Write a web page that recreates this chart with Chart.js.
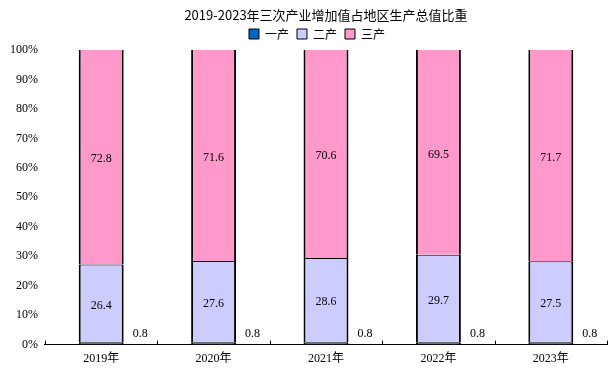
<!DOCTYPE html>
<html>
<head>
<meta charset="utf-8">
<script src="https://cdn.jsdelivr.net/npm/chart.js@4/dist/chart.umd.min.js"></script>
<style>
html,body{margin:0;padding:0;background:#fff;}
#wrap{width:615px;height:376px;position:relative;}
</style>
</head>
<body>
<div id="wrap"><canvas id="c" width="615" height="376"></canvas></div>
<script>
const titleText = '2019-2023年三次产业增加值占地区生产总值比重';
const categories = ['2019年', '2020年', '2021年', '2022年', '2023年'];
const seriesNames = ['一产', '二产', '三产'];
const primary = [0.8, 0.8, 0.8, 0.8, 0.8];
const secondary = [26.4, 27.6, 28.6, 29.7, 27.5];
const tertiary = [72.8, 71.6, 70.6, 69.5, 71.7];
const yTicks = [0, 10, 20, 30, 40, 50, 60, 70, 80, 90, 100];

const colors = ['#0066CC', '#CCCCFF', '#FF99CC'];
const serif = '"Liberation Serif", "Noto Sans CJK SC", serif';
const cjk = '"Noto Sans CJK SC", "Liberation Serif", sans-serif';

const customPlugin = {
  id: 'custom',
  afterLayout(chart) {
    const lg = chart.legend;
    const ca = chart.chartArea;
    const target = (ca.left + ca.right) / 2 - 9;
    const cur = (lg.left + lg.right) / 2;
    const d = target - cur;
    lg.left += d; lg.right += d;
  },
  afterDraw(chart) {
    const ctx = chart.ctx;
    const ca = chart.chartArea;
    const xs = chart.scales.x;
    ctx.save();
    ctx.fillStyle = '#000';
    ctx.font = '13px ' + cjk;
    ctx.textAlign = 'center';
    ctx.textBaseline = 'middle';
    ctx.fillText(titleText, (ca.left + ca.right) / 2, 15);
    ctx.restore();
    ctx.save();
    ctx.strokeStyle = '#000';
    ctx.lineWidth = 1;
    const n = categories.length;
    const step = (xs.right - xs.left) / n;
    for (let i = 0; i <= n; i++) {
      const x = Math.round(xs.left + i * step) + 0.5;
      ctx.beginPath();
      ctx.moveTo(x, ca.bottom);
      ctx.lineTo(x, ca.bottom - 4);
      ctx.stroke();
    }
    ctx.restore();
  },
  afterDatasetsDraw(chart) {
    const ctx = chart.ctx;
    ctx.save();
    ctx.fillStyle = '#000';
    ctx.font = '12px ' + serif;
    chart.data.datasets.forEach((ds, di) => {
      const meta = chart.getDatasetMeta(di);
      meta.data.forEach((el, i) => {
        const v = ds.data[i];
        const txt = v.toFixed(1);
        if (di === 0) {
          ctx.textAlign = 'left';
          ctx.textBaseline = 'middle';
          ctx.fillText(txt, el.x + el.width / 2 + 9, el.base - 11);
        } else {
          ctx.textAlign = 'center';
          ctx.textBaseline = 'middle';
          ctx.fillText(txt, el.x, (el.y + el.base) / 2 + 2);
        }
      });
    });
    ctx.restore();
  }
};

const sideBorder = (top) => ({ left: 2, right: 2, top: top, bottom: 0 });

new Chart(document.getElementById('c'), {
  type: 'bar',
  data: {
    labels: categories,
    datasets: [
      { label: seriesNames[0], data: primary, backgroundColor: colors[0], borderColor: '#000', borderWidth: sideBorder(1), borderSkipped: false, inflateAmount: 0 },
      { label: seriesNames[1], data: secondary, backgroundColor: colors[1], borderColor: '#000', borderWidth: sideBorder(1), borderSkipped: false, inflateAmount: 0 },
      { label: seriesNames[2], data: tertiary, backgroundColor: colors[2], borderColor: '#000', borderWidth: sideBorder(0), borderSkipped: false, inflateAmount: 0 }
    ]
  },
  options: {
    responsive: false,
    animation: false,
    devicePixelRatio: 1,
    layout: { padding: { top: 20, right: 8, left: 3, bottom: 3 } },
    datasets: { bar: { categoryPercentage: 1.0, barPercentage: 0.4 } },
    plugins: {
      title: { display: false },
      tooltip: { enabled: false },
      legend: {
        display: true,
        position: 'top',
        labels: {
          boxWidth: 10,
          boxHeight: 10,
          padding: 8,
          color: '#000',
          font: { size: 12, family: cjk },
          generateLabels(chart) {
            return chart.data.datasets.map((ds, i) => ({
              text: ds.label,
              fillStyle: ds.backgroundColor,
              strokeStyle: '#000',
              lineWidth: 1,
              hidden: false,
              datasetIndex: i
            }));
          }
        }
      }
    },
    scales: {
      x: {
        stacked: true,
        grid: { display: false, drawTicks: false },
        border: { display: true, color: '#000', width: 1 },
        ticks: { color: '#000', font: { size: 12, family: serif }, padding: 7 }
      },
      y: {
        stacked: true,
        min: 0,
        max: 100,
        afterBuildTicks(scale) { scale.ticks = yTicks.map(v => ({ value: v })); },
        grid: { display: false, drawTicks: false },
        border: { display: false },
        ticks: { color: '#000', font: { size: 12, family: serif }, padding: 7, callback: v => v + '%' }
      }
    }
  },
  plugins: [customPlugin]
});
</script>
</body>
</html>
